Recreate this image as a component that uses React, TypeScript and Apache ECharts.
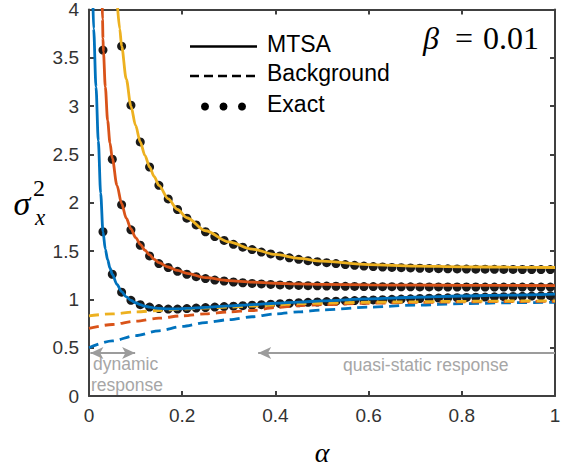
import React, { useEffect, useRef } from "react";
import * as echarts from "echarts";

// ---- Data ----
const alphaExact = [
  0.03, 0.05, 0.07, 0.09, 0.11, 0.13, 0.15, 0.17, 0.19, 0.21, 0.23, 0.25, 0.27, 0.29, 0.31, 0.33,
  0.35, 0.37, 0.39, 0.41, 0.43, 0.45, 0.47, 0.49, 0.51, 0.53, 0.55, 0.57, 0.59, 0.61, 0.63, 0.65,
  0.67, 0.69, 0.71, 0.73, 0.75, 0.77, 0.79, 0.81, 0.83, 0.85, 0.87, 0.89, 0.91, 0.93, 0.95, 0.97, 0.99,
];
const blueExact = [
  1.70, 1.26, 1.075, 0.99, 0.945, 0.92, 0.905, 0.90, 0.90, 0.905, 0.91, 0.915, 0.92, 0.925, 0.93, 0.935,
  0.94, 0.945, 0.95, 0.955, 0.96, 0.965, 0.97, 0.973, 0.977, 0.981, 0.985, 0.988, 0.991, 0.994, 0.997, 1.0,
  1.003, 1.006, 1.009, 1.012, 1.014, 1.016, 1.018, 1.02, 1.022, 1.024, 1.026, 1.028, 1.03, 1.032, 1.034, 1.036, 1.038,
];
const redExact = [
  3.58, 2.45, 1.98, 1.72, 1.56, 1.45, 1.37, 1.33, 1.29, 1.26, 1.235, 1.215, 1.20, 1.19, 1.18, 1.172,
  1.165, 1.16, 1.155, 1.15, 1.147, 1.144, 1.142, 1.14, 1.138, 1.136, 1.135, 1.134, 1.133, 1.132, 1.131, 1.131,
  1.13, 1.13, 1.129, 1.129, 1.129, 1.128, 1.128, 1.128, 1.128, 1.127, 1.127, 1.127, 1.127, 1.127, 1.127, 1.127, 1.127,
];
const yellowExact = [
  null, null, 3.62, 3.01, 2.63, 2.37, 2.18, 2.04, 1.93, 1.84, 1.77, 1.70, 1.65, 1.61, 1.57, 1.54,
  1.515, 1.49, 1.47, 1.45, 1.43, 1.415, 1.40, 1.39, 1.38, 1.37, 1.36, 1.352, 1.345, 1.34, 1.335, 1.331,
  1.328, 1.325, 1.322, 1.32, 1.318, 1.316, 1.315, 1.314, 1.313, 1.312, 1.311, 1.31, 1.31, 1.309, 1.309, 1.308, 1.308,
];

const alphaBlueMTSA = [
  0.0085, 0.01, 0.015, 0.02, 0.025, 0.03, 0.035, 0.04, 0.045, 0.05, 0.06, 0.07, 0.08, 0.09, 0.1, 0.11,
  0.12, 0.13, 0.14, 0.15, 0.17, 0.19, 0.21, 0.25, 0.3, 0.35, 0.4, 0.45, 0.5, 0.6, 0.7, 0.8, 0.9, 1.0,
];
const blueMTSA = [
  4.05, 3.8, 3.2, 2.64, 2.1, 1.70, 1.52, 1.41, 1.325, 1.26, 1.155, 1.08, 1.025, 0.99, 0.965, 0.945,
  0.93, 0.92, 0.912, 0.907, 0.902, 0.902, 0.906, 0.918, 0.932, 0.946, 0.96, 0.972, 0.984, 1.005, 1.022, 1.035, 1.045, 1.055,
];
const alphaRedMTSA = [
  0.0283, 0.029, 0.03, 0.031, 0.035, 0.04, 0.045, 0.05, 0.06, 0.07, 0.08, 0.09, 0.1, 0.11, 0.12, 0.13,
  0.14, 0.15, 0.17, 0.19, 0.21, 0.25, 0.3, 0.35, 0.4, 0.45, 0.5, 0.6, 0.7, 0.8, 0.9, 1.0,
];
const redMTSA = [
  4.05, 3.9, 3.7, 3.56, 3.2, 2.85, 2.62, 2.46, 2.18, 1.99, 1.84, 1.73, 1.64, 1.57, 1.51, 1.46,
  1.415, 1.38, 1.335, 1.30, 1.27, 1.225, 1.195, 1.178, 1.167, 1.16, 1.155, 1.15, 1.147, 1.145, 1.144, 1.143,
];
const alphaYellowMTSA = [
  0.0612, 0.066, 0.07, 0.08, 0.09, 0.1, 0.11, 0.12, 0.13, 0.14, 0.15, 0.17, 0.19, 0.21, 0.25, 0.3,
  0.35, 0.4, 0.45, 0.5, 0.6, 0.7, 0.8, 0.9, 1.0,
];
const yellowMTSA = [
  4.03, 3.8, 3.62, 3.28, 3.0, 2.8, 2.63, 2.49, 2.37, 2.27, 2.18, 2.04, 1.93, 1.845, 1.71, 1.595,
  1.52, 1.465, 1.425, 1.395, 1.36, 1.345, 1.337, 1.333, 1.33,
];

const alphaBackground = [0, 0.05, 0.1, 0.15, 0.2, 0.25, 0.3, 0.35, 0.4, 0.45, 0.5, 0.6, 0.7, 0.8, 0.9, 1.0];
const blueBackground = [0.50, 0.57, 0.625, 0.675, 0.72, 0.76, 0.79, 0.82, 0.85, 0.87, 0.89, 0.92, 0.94, 0.955, 0.965, 0.97];
const redBackground = [0.70, 0.74, 0.775, 0.805, 0.83, 0.85, 0.87, 0.885, 0.915, 0.935, 0.945, 0.96, 0.968, 0.974, 0.978, 0.98];
const yellowBackground = [0.83, 0.85, 0.87, 0.885, 0.90, 0.91, 0.92, 0.93, 0.94, 0.955, 0.96, 0.97, 0.975, 0.98, 0.983, 0.985];

// annotation ranges (alpha) and height (sigma^2)
const dynamicRange = [0.003, 0.099];
const quasiStaticRange = [0.363, 1.0];
const arrowLevel = 0.446;

const BLUE = "#0072BD";
const RED = "#D95319";
const YELLOW = "#EDB120";
const AXIS = "#404040";
const GRAY = "#9c9c9c";
const SANS = '"Liberation Sans", Arial, Helvetica, sans-serif';
const SERIF = '"Liberation Serif", "DejaVu Serif", serif';

const pairs = (xs: number[], ys: (number | null)[]) => xs.map((x, i) => [x, ys[i]]);

export default function App() {
  const ref = useRef<HTMLDivElement>(null);
  useEffect(() => {
    if (!ref.current) return;
    const chart = echarts.init(ref.current, null, { renderer: "svg" });
    const axisCommon = {
      type: "value" as const,
      min: 0,
      max: 1,
      interval: 0.2,
      axisLine: { onZero: false, lineStyle: { color: AXIS, width: 2 } },
      axisTick: { inside: true, length: 5, lineStyle: { color: AXIS, width: 2 } },
      splitLine: { show: false },
    };
    const yCommon = { ...axisCommon, max: 4, interval: 0.5 };
    const lineSeries = (name: string, data: any[], color: string, dashed: boolean) => ({
      type: "line",
      name,
      data,
      showSymbol: false,
      symbol: "none",
      smooth: 0.3,
      smoothMonotone: "x",
      clip: true,
      z: 3,
      lineStyle: { color, width: 2.8, type: dashed ? [10, 6] : "solid" },
      silent: true,
    });
    const scatter = (data: any[]) => ({
      type: "scatter",
      data,
      symbol: "circle",
      symbolSize: 9,
      itemStyle: { color: "#1a1a1a", opacity: 1 },
      clip: true,
      z: 2,
      silent: true,
    });
    chart.setOption({
      animation: false,
      grid: { left: 89, top: 8, width: 466, height: 388, containLabel: false },
      xAxis: [
        {
          ...axisCommon,
          position: "bottom",
          axisLabel: { fontSize: 19, color: "#333", margin: 10, fontFamily: SANS },
        },
        { ...axisCommon, position: "top", axisLabel: { show: false } },
      ],
      yAxis: [
        {
          ...yCommon,
          position: "left",
          axisLabel: { fontSize: 19, color: "#333", margin: 10, fontFamily: SANS },
        },
        { ...yCommon, position: "right", axisLabel: { show: false } },
      ],
      series: [
        scatter(pairs(alphaExact, blueExact)),
        scatter(pairs(alphaExact, redExact)),
        scatter(pairs(alphaExact, yellowExact)),
        lineSeries("bgBlue", pairs(alphaBackground, blueBackground), BLUE, true),
        lineSeries("bgRed", pairs(alphaBackground, redBackground), RED, true),
        lineSeries("bgYellow", pairs(alphaBackground, yellowBackground), YELLOW, true),
        lineSeries("mtsaBlue", pairs(alphaBlueMTSA, blueMTSA), BLUE, false),
        lineSeries("mtsaRed", pairs(alphaRedMTSA, redMTSA), RED, false),
        {
          ...lineSeries("mtsaYellow", pairs(alphaYellowMTSA, yellowMTSA), YELLOW, false),
          markLine: {
            silent: true,
            animation: false,
            label: { show: false },
            lineStyle: { color: GRAY, width: 1.8, type: "solid" },
            symbolSize: [9, 13],
            data: [
              [
                { coord: [dynamicRange[0], arrowLevel], symbol: "arrow" },
                { coord: [dynamicRange[1], arrowLevel], symbol: "arrow" },
              ],
              [
                { coord: [quasiStaticRange[1], arrowLevel], symbol: "none" },
                { coord: [quasiStaticRange[0], arrowLevel], symbol: "arrow" },
              ],
            ],
          },
        },
      ],
      graphic: [
        // legend
        { type: "line", shape: { x1: 190, y1: 46.5, x2: 257, y2: 46.5 }, style: { stroke: "#000", lineWidth: 2.5 } },
        { type: "text", x: 267, y: 44, style: { text: "MTSA", font: `23px ${SANS}`, fill: "#000", verticalAlign: "middle" } },
        { type: "line", shape: { x1: 190, y1: 76, x2: 257, y2: 76 }, style: { stroke: "#000", lineWidth: 2.5, lineDash: [9, 5] } },
        { type: "text", x: 267, y: 73, style: { text: "Background", font: `23px ${SANS}`, fill: "#000", verticalAlign: "middle" } },
        { type: "circle", shape: { cx: 205, cy: 106.5, r: 4 }, style: { fill: "#000" } },
        { type: "circle", shape: { cx: 223.5, cy: 106.5, r: 4 }, style: { fill: "#000" } },
        { type: "circle", shape: { cx: 242, cy: 106.5, r: 4 }, style: { fill: "#000" } },
        { type: "text", x: 267, y: 104, style: { text: "Exact", font: `23px ${SANS}`, fill: "#000", verticalAlign: "middle" } },
        // beta label: β = 0.01
        { type: "text", x: 423, y: 38, style: { text: "β", font: `italic 32px ${SERIF}`, fill: "#000", verticalAlign: "middle" } },
        { type: "text", x: 455, y: 38, style: { text: "=", font: `32px ${SERIF}`, fill: "#000", verticalAlign: "middle" } },
        { type: "text", x: 539, y: 38, style: { text: "0.01", font: `32px ${SERIF}`, fill: "#000", align: "right", verticalAlign: "middle" } },
        // y axis label sigma_x^2
        { type: "text", x: 22, y: 203, style: { text: "σ", font: `italic 34px ${SERIF}`, fill: "#000", align: "center", verticalAlign: "middle" } },
        { type: "text", x: 39, y: 188, style: { text: "2", font: `24px ${SERIF}`, fill: "#000", align: "center", verticalAlign: "middle" } },
        { type: "text", x: 40, y: 217, style: { text: "x", font: `italic 23px ${SERIF}`, fill: "#000", align: "center", verticalAlign: "middle" } },
        // x axis label alpha
        {
          type: "text",
          x: 322,
          y: 452,
          style: { text: "α", font: `italic 28px ${SERIF}`, fill: "#000", align: "center", verticalAlign: "middle" },
        },
        // annotations
        { type: "text", x: 93, y: 364, style: { text: "dynamic", font: `17.5px ${SANS}`, fill: "#a6a6a6", verticalAlign: "middle" } },
        { type: "text", x: 91, y: 385, style: { text: "response", font: `17.5px ${SANS}`, fill: "#a6a6a6", verticalAlign: "middle" } },
        { type: "text", x: 343, y: 365, style: { text: "quasi-static response", font: `17.5px ${SANS}`, fill: "#a6a6a6", verticalAlign: "middle" } },
      ],
    });
    return () => chart.dispose();
  }, []);
  return <div ref={ref} style={{ position: "absolute", left: 0, top: 0, width: 567, height: 468 }} />;
}
